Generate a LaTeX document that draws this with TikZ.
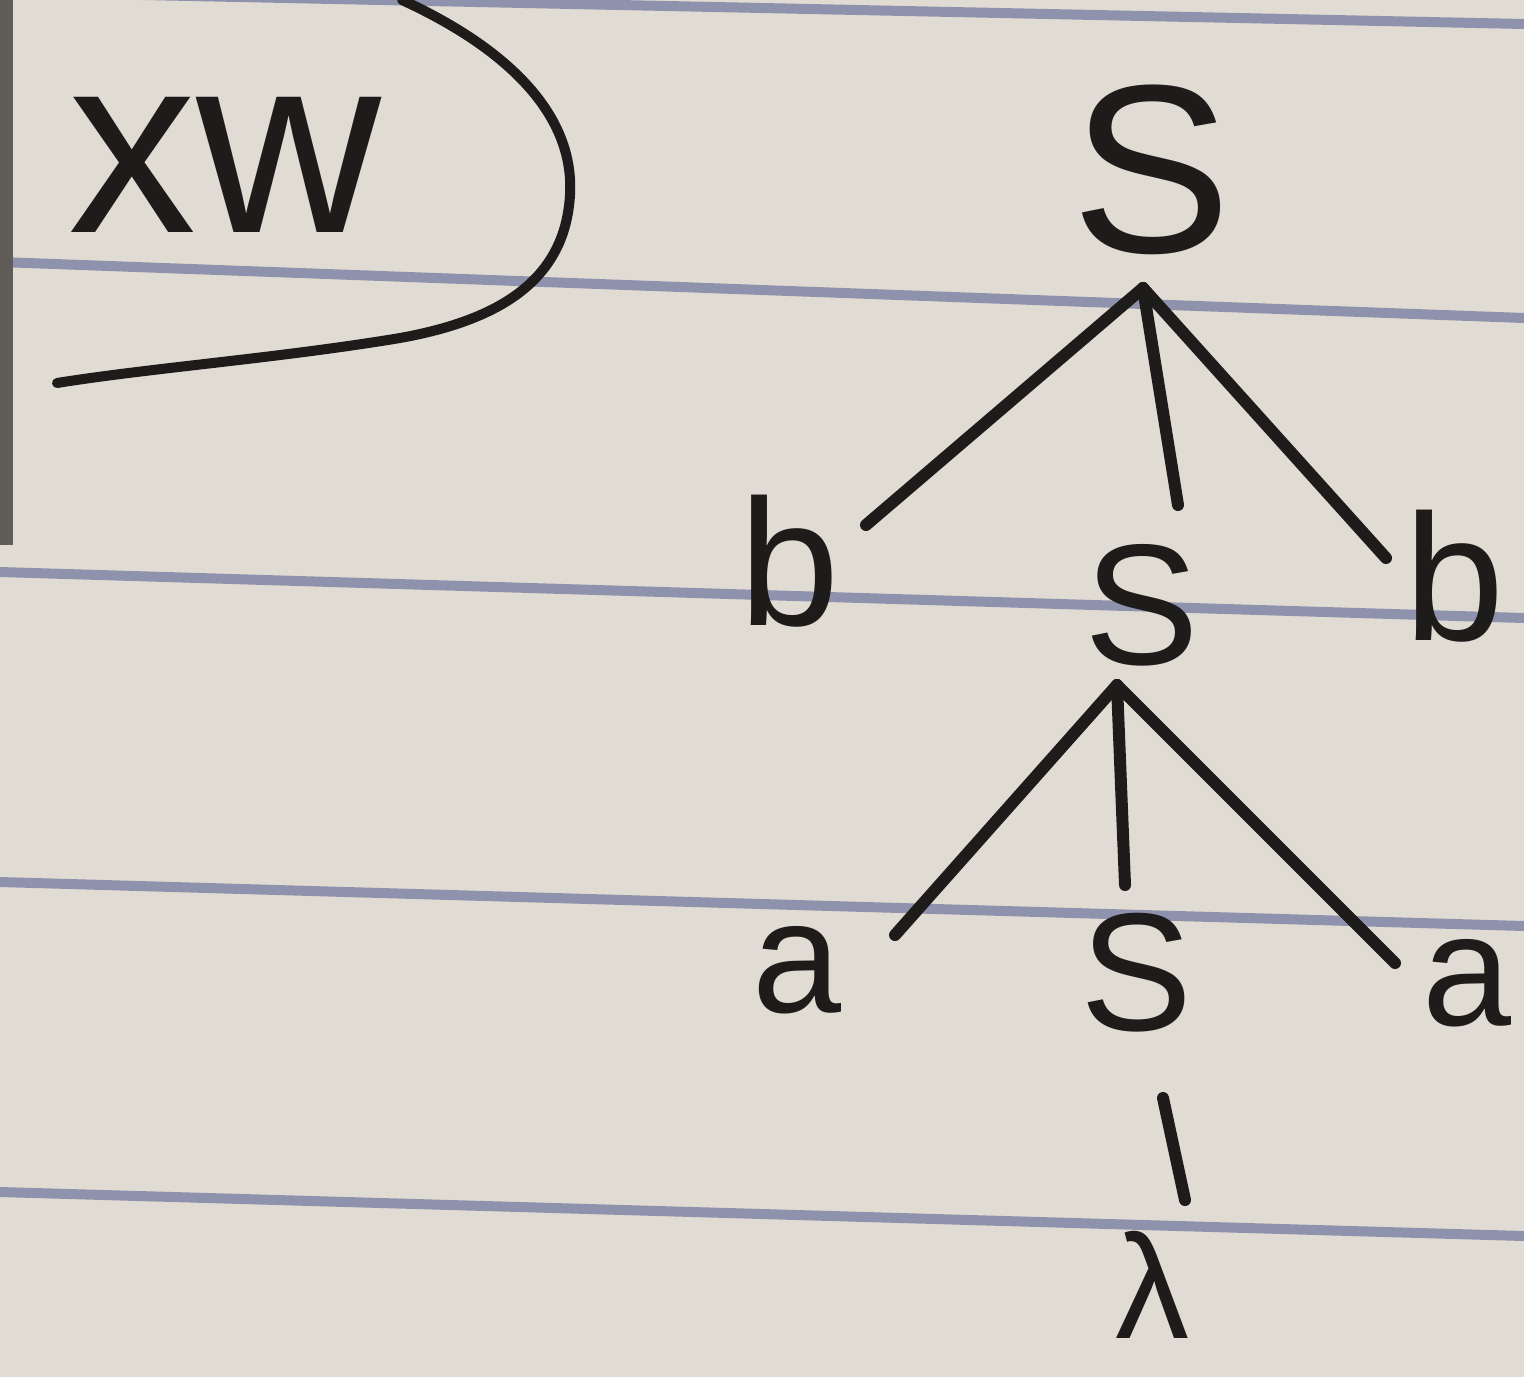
\documentclass[tikz,border=0pt]{standalone}
\usepackage{fontspec}
\setmainfont{Liberation Sans}
\definecolor{paper}{RGB}{224,220,211}
\definecolor{rule}{RGB}{143,146,172}
\definecolor{ink}{RGB}{30,27,27}
\definecolor{margin}{RGB}{95,92,90}
\tikzset{
  sym/.style={anchor=base, inner sep=0pt, text=ink},
  branch/.style={draw=ink, line width=6pt, line cap=round},
  ruling/.style={draw=rule, line width=5pt}
}
\newcommand{\fs}[1]{\fontsize{#1}{#1}\selectfont}
\begin{document}
\begin{tikzpicture}[x=0.5pt, y=-0.5pt]
  % sheet of lined paper
  \fill[paper] (0,0) rectangle (1524,1377);
  \useasboundingbox (0,0) rectangle (1524,1377);
  \draw[ruling] (0,-8) -- (1524,24);
  \draw[ruling] (0,262) -- (1524,318);
  \draw[ruling] (0,572) -- (1524,618);
  \draw[ruling] (0,882) -- (1524,926);
  \draw[ruling] (0,1192) -- (1524,1236);
  \draw[margin, line width=7pt] (6,0) -- (6,545);

  % label with its bracket
  \node[sym, font=\fs{128}] (xw) at (225,232) {xw};
  \draw[branch, line width=5pt]
    (402,0) .. controls (500,45) and (575,110) .. (570,195)
            .. controls (565,280) and (500,320) .. (400,338)
            .. controls (280,358) and (150,368) .. (57,383);

  % derivation tree
  \node[sym, font=\fs{120}] (S1) at (1152,252) {S};
  \node[sym, font=\fs{90}]  (b1) at (790,625) {b};
  \node[sym, font=\fs{86}]  (S2) at (1142,664) {S};
  \node[sym, font=\fs{90}]  (b2) at (1455,640) {b};
  \node[sym, font=\fs{80}]  (a1) at (797,1012) {a};
  \node[sym, font=\fs{84}]  (S3) at (1137,1030) {S};
  \node[sym, font=\fs{80}]  (a2) at (1467,1025) {a};
  \node[sym, font=\fs{74}]  (lam) at (1152,1338) {λ};

  % branch points and leaf ends
  \coordinate (S1f) at (1143,288);
  \coordinate (b1e) at (866,525);
  \coordinate (S2e) at (1178,505);
  \coordinate (b2e) at (1386,558);
  \coordinate (S2f) at (1117,685);
  \coordinate (a1e) at (895,935);
  \coordinate (S3e) at (1125,885);
  \coordinate (a2e) at (1395,963);
  \coordinate (S3f) at (1163,1098);
  \coordinate (lame) at (1185,1200);

  \draw[branch] (S1f) -- (b1e);
  \draw[branch] (S1f) -- (S2e);
  \draw[branch] (S1f) -- (b2e);
  \draw[branch] (S2f) -- (a1e);
  \draw[branch] (S2f) -- (S3e);
  \draw[branch] (S2f) -- (a2e);
  \draw[branch] (S3f) -- (lame);
\end{tikzpicture}
\end{document}
